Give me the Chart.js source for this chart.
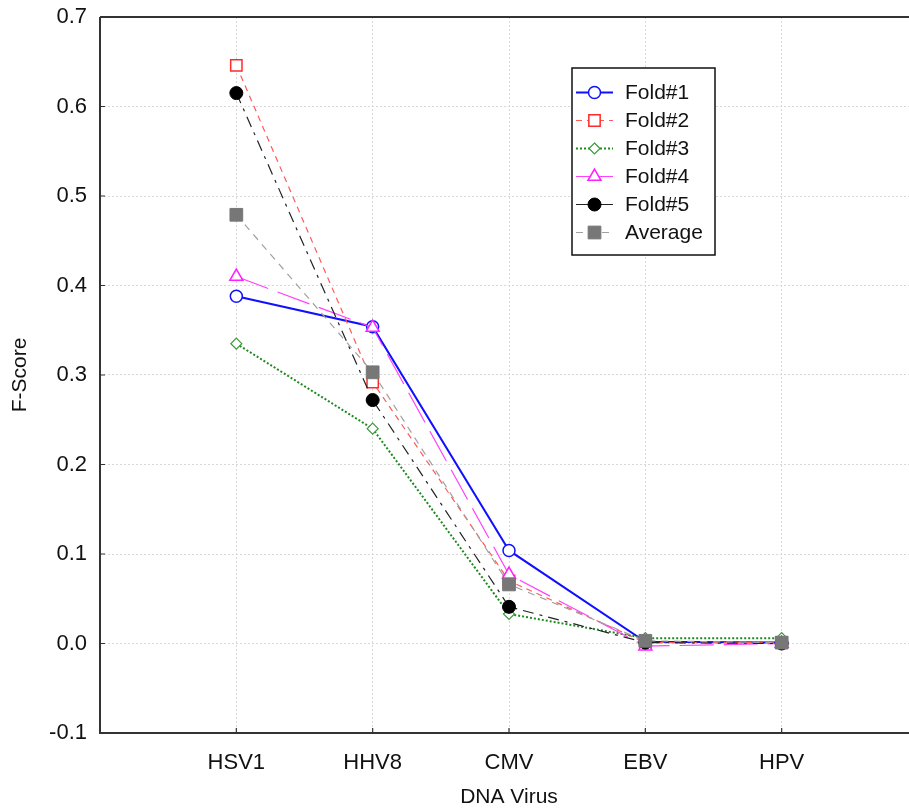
<!DOCTYPE html>
<html>
<head>
<meta charset="utf-8">
<script src="https://cdn.jsdelivr.net/npm/chart.js@4/dist/chart.umd.min.js"></script>
<style>
html,body{margin:0;padding:0;background:#fff;overflow:hidden;}
#wrap{width:930px;height:812px;}
</style>
</head>
<body>
<div id="wrap"><canvas id="c" width="930" height="812"></canvas></div>
<script>
// ---- data ----
const categories = ['HSV1', 'HHV8', 'CMV', 'EBV', 'HPV'];
const fold1 = [0.388, 0.354, 0.104, 0.002, 0.001];
const fold2 = [0.646, 0.292, 0.070, 0.001, 0.001];
const fold3 = [0.335, 0.240, 0.033, 0.006, 0.006];
const fold4 = [0.410, 0.353, 0.077, -0.003, 0.000];
const fold5 = [0.615, 0.272, 0.041, 0.001, 0.000];
const average = [0.479, 0.303, 0.066, 0.003, 0.001];
const yTicks = [-0.1, 0.0, 0.1, 0.2, 0.3, 0.4, 0.5, 0.6, 0.7];
const seriesNames = ['Fold#1', 'Fold#2', 'Fold#3', 'Fold#4', 'Fold#5', 'Average'];

const FONT = "'Liberation Sans', Arial, Helvetica, sans-serif";
const toPts = arr => arr.map((v, i) => ({x: i + 1, y: v}));

const styles = [
  {line: '#1010ff', width: 2, dash: [], point: 'circle', r: 6, fill: '#ffffff', pb: '#1010ff', pw: 1.5},
  {line: '#ff5a5a', width: 1.2, dash: [6, 5], point: 'rect', r: 8, fill: '#ffffff', pb: '#ff2a2a', pw: 1.5},
  {line: '#1e8a1e', width: 2, dash: [2, 2], point: 'rectRot', r: 5.5, fill: '#ffffff', pb: '#3a9a3a', pw: 1.2},
  {line: '#ff40ff', width: 1.2, dash: [34, 10], point: 'triangle', r: 7.5, fill: '#ffffff', pb: '#ff20ff', pw: 1.5},
  {line: '#222222', width: 1.2, dash: [11, 6, 3, 6], point: 'circle', r: 6.5, fill: '#000000', pb: '#000000', pw: 1},
  {line: '#a0a0a0', width: 1.2, dash: [7, 6], point: 'rect', r: 9, fill: '#777777', pb: '#777777', pw: 1}
];
const seriesData = [fold1, fold2, fold3, fold4, fold5, average];

const datasets = seriesData.map((d, i) => ({
  label: seriesNames[i],
  data: toPts(d),
  borderColor: styles[i].line,
  borderWidth: styles[i].width,
  borderDash: styles[i].dash,
  pointStyle: styles[i].point,
  pointRadius: styles[i].r,
  pointHoverRadius: styles[i].r,
  pointBackgroundColor: styles[i].fill,
  pointBorderColor: styles[i].pb,
  pointBorderWidth: styles[i].pw,
  tension: 0,
  fill: false
}));
datasets.forEach((d, i) => d.order = 6 - i);

function drawMarker(ctx, style, r, x, y, fill, stroke, lw) {
  ctx.save();
  ctx.beginPath();
  if (style === 'circle') {
    ctx.arc(x, y, r, 0, Math.PI * 2);
  } else if (style === 'rect') {
    const s = Math.SQRT1_2 * r;
    ctx.rect(x - s, y - s, 2 * s, 2 * s);
  } else if (style === 'rectRot') {
    ctx.moveTo(x, y - r); ctx.lineTo(x + r, y); ctx.lineTo(x, y + r); ctx.lineTo(x - r, y); ctx.closePath();
  } else if (style === 'triangle') {
    for (let k = 0; k < 3; k++) {
      const a = k * 2 * Math.PI / 3;
      const px = x + Math.sin(a) * r, py = y - Math.cos(a) * r;
      if (k === 0) ctx.moveTo(px, py); else ctx.lineTo(px, py);
    }
    ctx.closePath();
  }
  ctx.fillStyle = fill; ctx.fill();
  ctx.lineWidth = lw; ctx.strokeStyle = stroke; ctx.setLineDash([]); ctx.stroke();
  ctx.restore();
}

const framePlugin = {
  id: 'frame',
  afterDraw(chart) {
    const ctx = chart.ctx, a = chart.chartArea;
    const xs = chart.scales.x, ys = chart.scales.y;
    ctx.save();
    ctx.strokeStyle = '#333'; ctx.lineWidth = 2; ctx.setLineDash([]);
    ctx.beginPath();
    ctx.moveTo(a.left, a.top); ctx.lineTo(a.right, a.top);
    ctx.moveTo(a.left, a.top); ctx.lineTo(a.left, a.bottom); ctx.lineTo(a.right, a.bottom);
    ctx.stroke();
    ctx.lineWidth = 1.2;
    ctx.beginPath();
    yTicks.forEach(v => { const py = ys.getPixelForValue(v); ctx.moveTo(a.left, py); ctx.lineTo(a.left + 5, py); });
    categories.forEach((c, i) => { const px = xs.getPixelForValue(i + 1); ctx.moveTo(px, a.bottom); ctx.lineTo(px, a.bottom - 5); });
    ctx.stroke();
    // legend box
    const bx = 572, by = 68, bw = 143, bh = 187;
    ctx.fillStyle = '#fff';
    ctx.fillRect(bx, by, bw, bh);
    ctx.lineWidth = 1.5; ctx.strokeStyle = '#111';
    ctx.strokeRect(bx, by, bw, bh);
    ctx.font = '21px ' + FONT;
    ctx.fillStyle = '#111'; ctx.textBaseline = 'middle'; ctx.textAlign = 'left';
    chart.data.datasets.forEach((ds, i) => {
      const st = styles[i];
      const y = 92.5 + i * 28;
      ctx.save();
      ctx.strokeStyle = st.line; ctx.lineWidth = st.width;
      ctx.setLineDash(i === 4 || i === 3 ? [] : st.dash);
      ctx.beginPath(); ctx.moveTo(576, y); ctx.lineTo(613, y); ctx.stroke();
      ctx.restore();
      drawMarker(ctx, st.point, st.r, 594.5, y, st.fill, st.pb, st.pw);
      ctx.fillStyle = '#111';
      ctx.fillText(ds.label, 625, y + 1);
    });
    ctx.restore();
  }
};

new Chart(document.getElementById('c'), {
  type: 'line',
  data: {datasets},
  options: {
    responsive: false,
    animation: false,
    events: [],
    layout: {padding: {left: 0, right: 12, top: 17, bottom: 0}},
    plugins: {legend: {display: false}, tooltip: {enabled: false}},
    scales: {
      x: {
        type: 'linear', min: 0, max: 6,
        afterFit(s) { s.height = 79; s.paddingLeft = 0; s.paddingRight = 0; },
        afterBuildTicks(s) { s.ticks = [0, 1, 2, 3, 4, 5, 6].map(v => ({value: v})); },
        ticks: {
          callback: v => (v >= 1 && v <= categories.length ? categories[v - 1] : ''),
          font: {family: FONT, size: 22}, color: '#111', padding: 17, maxRotation: 0, autoSkip: false
        },
        grid: {color: c => (c.tick && c.tick.value > 0 && c.tick.value < 6 ? '#d8d8d8' : 'rgba(0,0,0,0)'), lineWidth: 1, drawTicks: false},
        border: {display: false, dash: [2, 2]},
        title: {display: true, text: 'DNA Virus', font: {family: FONT, size: 21}, color: '#111', padding: {top: 0, bottom: 2}}
      },
      y: {
        min: -0.1, max: 0.7,
        afterFit(s) { s.width = 100; s.paddingTop = 0; s.paddingBottom = 0; },
        afterBuildTicks(s) { s.ticks = yTicks.map(v => ({value: v})); },
        ticks: {
          callback: v => Number(v).toFixed(1),
          font: {family: FONT, size: 22}, color: '#111', padding: 13
        },
        grid: {color: c => (c.tick && c.tick.value > -0.05 && c.tick.value < 0.65 ? '#d8d8d8' : 'rgba(0,0,0,0)'), lineWidth: 1, drawTicks: false},
        border: {display: false, dash: [2, 2]},
        title: {display: true, text: 'F-Score', font: {family: FONT, size: 21}, color: '#111', padding: {top: 8, bottom: 0}}
      }
    }
  },
  plugins: [framePlugin]
});
</script>
</body>
</html>
